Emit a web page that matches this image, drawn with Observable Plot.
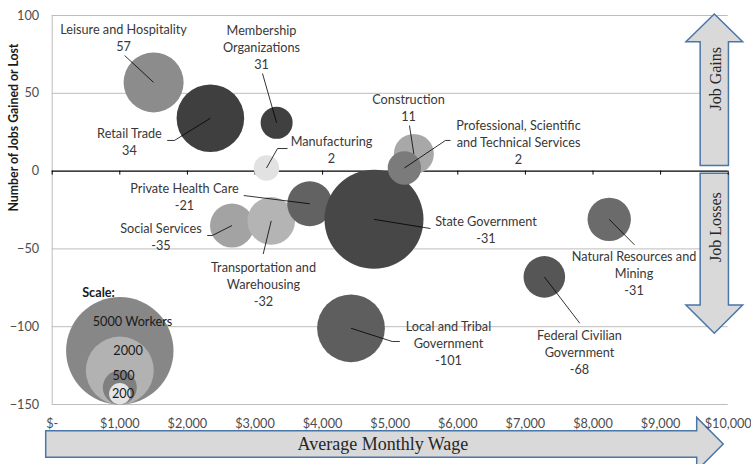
<!DOCTYPE html>
<html><head><meta charset="utf-8">
<script src="https://cdn.jsdelivr.net/npm/d3@7"></script>
<script src="https://cdn.jsdelivr.net/npm/@observablehq/plot@0.6"></script>
<style>body{margin:0;background:#fff;}</style>
</head><body><div id="chart"></div>
<script>
// ---- data (drawing order) ----
const categories = ["Leisure and Hospitality", "Retail Trade", "Membership\nOrganizations", "Manufacturing",
  "Social Services", "Transportation and\nWarehousing", "Private Health Care", "State Government",
  "Construction", "Professional, Scientific\nand Technical Services", "Natural Resources and\nMining",
  "Federal Civilian\nGovernment", "Local and Tribal\nGovernment"];
const avgWage   = [1500, 2340, 3320, 3170, 2660, 3240, 3810, 4760, 5350, 5210, 8240, 7280, 4420];
const jobChange = [57, 34, 31, 2, -35, -32, -21, -31, 11, 2, -31, -68, -101];
const workers   = [1560, 1980, 444, 284, 839, 982, 878, 4250, 694, 484, 816, 750, 1990];
const bubbleFill = ["#8c8c8c", "#3f3f3f", "#404040", "#e2e2e2", "#a3a3a3", "#b4b4b4", "#626262",
  "#474747", "#a8a8a8", "#7b7b7b", "#6b6b6b", "#565656", "#5e5e5e"];
// label anchors (wage, jobs) and leader elbow / end points
const labelWage = [1055, 1143, 3096, 4132, 1609, 3126, 1957, 6417, 5271, 6898, 8607, 7800, 5862];
const labelJobs = [86, 19, 80, 14, -42, -72, -16, -37, 41, 19, -65, -116, -110];
const elbowWage = [1071, 1809, 3111, 3333, 2367, 3121, 2834, 5596, 5285, 5818, 8614, 7805, 5029];
const elbowJobs = [74.3, 19.7, 62.7, 14.5, -41.4, -53.3, -15.7, -36.9, 29.3, 19.7, -47.4, -97.8, -109.5];
const endWage   = [1071, 1701, 3111, 3481, 2293, 3121, 2834, 5596, 5285, 5892, 8614, 7805, 5142];

const xTicks = [0, 1000, 2000, 3000, 4000, 5000, 6000, 7000, 8000, 9000, 10000];
const yTicks = [100, 50, 0, -50, -100, -150];

const legendWorkers = [5000, 2000, 500, 200];
const legendText = ["5000 Workers", "2000", "500", "200"];
const legendFill = ["#878787", "#b2b2b2", "#7f7f7f", "#e4e4e4"];
const legendWage = 1000;
const legendTextWage = [1188, 1122, 1055, 1047];
const legendTextJobs = [-97, -115.5, -131.5, -143];

// ---- layout ----
const W = 751, H = 464;
const M = {top: 15, right: 23.3, bottom: 60, left: 51.7};
const rMax = 53.7;
const yDomain = [-150, 100];
const pxPerUnit = (H - M.top - M.bottom) / (yDomain[1] - yDomain[0]);
const rPx = w => rMax * Math.sqrt(w / 5000);
const FS = 12.7;

const rows = categories.map((c, i) => ({
  name: c, wage: avgWage[i], jobs: jobChange[i], workers: workers[i], fill: bubbleFill[i],
  lx: labelWage[i], ly: labelJobs[i], ex: elbowWage[i], ey: elbowJobs[i], tx: endWage[i]
}));
const tails = rows.filter(d => d.tx !== d.ex);
const legendRows = legendWorkers.map((w, i) => ({
  w, fill: legendFill[i], text: legendText[i], cy: yDomain[0] + rPx(w) / pxPerUnit,
  tx: legendTextWage[i], ty: legendTextJobs[i]
}));

const serif = "'Liberation Serif', serif";
function decorations(index, scales, values, dims) {
  const {width, height, marginRight} = dims;
  const g = d3.create("svg:g");
  const fill = "#d9d9d9", stroke = "#4a76a8";
  // horizontal arrow (x title)
  const L = dims.marginLeft - 6, R = width - marginRight - 31, T = width - marginRight - 4.5;
  const yc = height - 20, bh = 13.35, hh = 26.6;
  g.append("path")
    .attr("d", `M${L},${yc - bh}H${R}V${yc - hh}L${T},${yc}L${R},${yc + hh}V${yc + bh}H${L}Z`)
    .attr("fill", fill).attr("stroke", stroke).attr("stroke-width", 1.5);
  g.append("text").attr("x", scales.x(4900)).attr("y", yc).attr("dy", "0.35em")
    .attr("text-anchor", "middle").attr("font-family", serif).attr("font-size", 18)
    .attr("fill", "#262626").text("Average Monthly Wage");
  // vertical arrows
  const cx = width - marginRight - 13.4, bw = 14.15, hw = 28.35;
  const y0 = scales.y(0);
  const upTip = dims.marginTop - 1, upBase = upTip + 27.7, upBottom = y0 - 5;
  g.append("path")
    .attr("d", `M${cx},${upTip}L${cx + hw},${upBase}H${cx + bw}V${upBottom}H${cx - bw}V${upBase}H${cx - hw}Z`)
    .attr("fill", fill).attr("stroke", stroke).attr("stroke-width", 1.5);
  const dnTop = y0 + 2.7, dnBase = y0 + 134.4, dnTip = dnBase + 28.3;
  g.append("path")
    .attr("d", `M${cx - bw},${dnTop}H${cx + bw}V${dnBase}H${cx + hw}L${cx},${dnTip}L${cx - hw},${dnBase}H${cx - bw}Z`)
    .attr("fill", fill).attr("stroke", stroke).attr("stroke-width", 1.5);
  g.append("text").attr("transform", `translate(${cx + 1},${(upTip + upBottom) / 2 - 11}) rotate(-90)`)
    .attr("dy", "0.35em").attr("text-anchor", "middle").attr("font-family", serif).attr("font-size", 16)
    .attr("fill", "#262626").text("Job Gains");
  g.append("text").attr("transform", `translate(${cx + 1},${(dnTop + dnBase) / 2 - 12}) rotate(-90)`)
    .attr("dy", "0.35em").attr("text-anchor", "middle").attr("font-family", serif).attr("font-size", 16)
    .attr("fill", "#262626").text("Job Losses");
  return g.node();
}

const chart = Plot.plot({
  width: W, height: H,
  marginTop: M.top, marginRight: M.right, marginBottom: M.bottom, marginLeft: M.left,
  style: {fontFamily: "Lato, sans-serif", fontSize: FS + "px", background: "#fff"},
  x: {domain: [0, 10000]},
  y: {domain: yDomain},
  r: {type: "sqrt", domain: [0, 5000], range: [0, rMax]},
  color: {type: "identity"},
  marks: [
    Plot.ruleY(yTicks.filter(d => d !== 0), {stroke: "#bdbdbd", strokeWidth: 1}),
    Plot.ruleX([0], {stroke: "#bdbdbd", strokeWidth: 1}),
    decorations,
    Plot.ruleY([0], {stroke: "#000", strokeWidth: 1.3}),
    Plot.ruleX(xTicks, {y1: () => 0, y2: () => 0, insetBottom: -4, stroke: "#000", strokeWidth: 1}),
    Plot.dot(legendRows, {x: () => legendWage, y: "cy", r: "w", fill: "fill", sort: null}),
    Plot.text(["Scale:"], {x: () => 685, y: () => -78, fontWeight: "bold", fontSize: FS, fill: "#1a1a1a"}),
    Plot.text(legendRows, {x: "tx", y: "ty", text: "text", fontSize: FS, fill: "#1a1a1a"}),
    Plot.dot(rows, {x: "wage", y: "jobs", r: "workers", fill: "fill", sort: null}),
    Plot.link(rows, {x1: "wage", y1: "jobs", x2: "ex", y2: "ey", stroke: "#000", strokeWidth: 0.8}),
    Plot.link(tails, {x1: "ex", y1: "ey", x2: "tx", y2: "ey", stroke: "#000", strokeWidth: 0.8}),
    Plot.text(rows, {x: "lx", y: "ly", text: d => d.name + "\n" + d.jobs, fontSize: FS,
      lineHeight: 17 / FS, lineAnchor: "middle", fill: "#383838"}),
    Plot.axisY({ticks: yTicks, tickSize: 0, tickPadding: 13, label: null, fill: "#4d4d4d", fontSize: FS}),
    Plot.axisX({ticks: xTicks, tickSize: 0, tickPadding: 14, label: null, fill: "#4d4d4d", fontSize: FS,
      tickFormat: d => d === 0 ? "$-" : "$" + d3.format(",")(d)}),
    Plot.text(["Number of Jobs Gained or Lost"], {frameAnchor: "left", dx: -38, dy: 1.5, rotate: -90,
      fontWeight: "bold", fontSize: 12.3, fill: "#1a1a1a"})
  ]
});
document.getElementById("chart").appendChild(chart);
</script>
</body></html>
